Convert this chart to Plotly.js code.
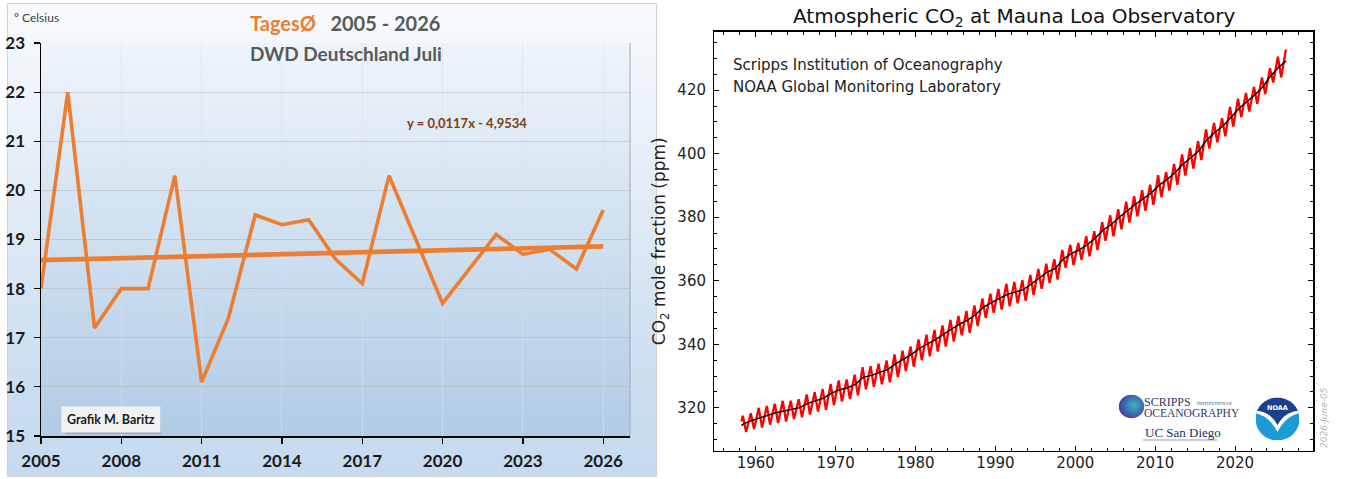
<!DOCTYPE html>
<html>
<head>
<meta charset="utf-8">
<script src="https://cdn.plot.ly/plotly-3.0.1.min.js"></script>
<style>
  html, body { margin: 0; padding: 0; background: #ffffff; }
  #wrap { position: relative; width: 1347px; height: 479px; overflow: hidden; }
  #panelBg { position: absolute; left: 7px; top: 3px; width: 648px; height: 472px;
    border: 1px solid #d3d3d3;
    background: linear-gradient(to bottom, #f8fafd 0%, #e2ecf6 40%, #cddff1 75%, #c5daef 100%); }
  #plotBg { position: absolute; left: 41px; top: 43px; width: 589px; height: 393px;
    background: linear-gradient(to bottom, #eef4fa 0%, #d2e2f1 45%, #b1cbe6 100%); }
  #chart { position: absolute; left: 0; top: 0; width: 1347px; height: 479px; }
</style>
</head>
<body>
<div id="wrap">
  <div id="panelBg"></div>
  <div id="plotBg"></div>
  <div id="chart"></div>
</div>
<script>
// ---------------- DATA: left chart (DWD Deutschland Juli, Tagesmittel) ----------------
const tempYears = [2005, 2006, 2007, 2008, 2009, 2010, 2011, 2012, 2013, 2014, 2015,
                   2016, 2017, 2018, 2019, 2020, 2021, 2022, 2023, 2024, 2025, 2026];
const tempValues = [18.0, 22.0, 17.2, 18.0, 18.0, 20.3, 16.1, 17.4, 19.5, 19.3, 19.4,
                    18.6, 18.1, 20.3, 19.0, 17.7, 18.4, 19.1, 18.7, 18.8, 18.4, 19.6];
const trendYears = [2005, 2026];
const trendValues = [18.58, 18.86];
const tempTickYears = [2005, 2008, 2011, 2014, 2017, 2020, 2023, 2026];

// ---------------- DATA: right chart (Mauna Loa CO2, ppm) ----------------
const co2FirstYear = 1958;
const co2StartTime = [1958.2];
const co2StartValue = [315.7];
// May maxima 1958..2026
const co2MayPeaks = [
  317.5, 318.3, 320.0, 320.6, 321.3, 322.2, 322.2, 322.7, 324.2, 324.9,
  325.9, 327.5, 328.6, 328.9, 330.4, 332.8, 333.1, 333.9, 334.9, 336.8,
  338.0, 339.3, 341.5, 343.0, 344.5, 345.9, 347.7, 348.9, 350.5, 352.2,
  354.4, 355.9, 357.4, 359.1, 359.6, 360.2, 361.8, 363.7, 365.4, 366.8,
  369.7, 371.3, 371.9, 374.0, 375.6, 378.4, 380.6, 382.5, 384.9, 386.6,
  388.5, 390.2, 393.2, 394.2, 396.8, 399.8, 401.8, 403.9, 407.6, 409.7,
  411.2, 414.7, 417.3, 419.1, 421.0, 424.0, 426.9, 430.5, 432.8];
// Autumn minima 1958..2025
const co2AutumnLows = [
  312.4, 313.3, 313.8, 314.7, 315.2, 315.7, 316.5, 317.0, 317.9, 318.8,
  319.4, 320.9, 322.0, 322.8, 323.9, 325.8, 326.6, 327.4, 328.0, 329.7,
  331.6, 333.0, 335.0, 336.2, 337.7, 339.3, 340.9, 342.8, 343.6, 345.7,
  348.3, 349.9, 350.9, 352.0, 352.9, 353.7, 355.5, 357.5, 359.3, 360.4,
  364.1, 364.9, 366.6, 367.7, 369.7, 372.6, 374.0, 376.2, 378.3, 380.3,
  382.0, 383.9, 386.3, 388.4, 390.2, 393.1, 395.3, 398.0, 401.6, 403.6,
  405.5, 408.5, 411.5, 413.3, 415.7, 418.8, 422.4, 424.0];
// de-seasonalized trend, yearly mid-points 1958..2025
const co2TrendValues = [
  315.0, 315.98, 316.91, 317.64, 318.45, 318.99, 319.62, 320.04, 321.37, 322.18,
  323.05, 324.62, 325.68, 326.32, 327.46, 329.68, 330.19, 331.13, 332.03, 333.84,
  335.41, 336.84, 338.76, 340.12, 341.48, 343.15, 344.87, 346.35, 347.61, 349.31,
  351.69, 353.20, 354.45, 355.70, 356.54, 357.21, 358.96, 360.97, 362.74, 363.88,
  366.84, 368.54, 369.71, 371.32, 373.45, 375.98, 377.70, 379.98, 382.09, 384.02,
  385.83, 387.64, 390.10, 391.85, 394.06, 396.74, 398.81, 401.01, 404.41, 406.76,
  408.72, 411.65, 414.21, 416.41, 418.53, 421.08, 424.61, 427.3];
const co2TrendStart = [1958.2, 314.4];
const co2TrendEnd = [2026.4, 429.2];
const co2TickYears = [1960, 1970, 1980, 1990, 2000, 2010, 2020];
const co2TickValues = [320, 340, 360, 380, 400, 420];

// ---------------- build series ----------------
const redX = co2StartTime.slice(), redY = co2StartValue.slice();
co2MayPeaks.forEach((v, i) => {
  const yr = co2FirstYear + i;
  redX.push(yr + 0.37); redY.push(v);
  if (i < co2AutumnLows.length) { redX.push(yr + 0.78); redY.push(co2AutumnLows[i]); }
});
const blackX = [co2TrendStart[0]], blackY = [co2TrendStart[1]];
co2TrendValues.forEach((v, i) => { blackX.push(co2FirstYear + i + 0.5); blackY.push(v); });
blackX.push(co2TrendEnd[0]); blackY.push(co2TrendEnd[1]);

// ---------------- layout helpers ----------------
const W = 1347, H = 479;
const PX = x => x / W;
const PY = y => 1 - y / H;
const LFONT = 'Lato, "Open Sans", sans-serif';
const DJ = '"DejaVu Sans", sans-serif';
const SERIF = '"Liberation Serif", "DejaVu Serif", serif';
const ORANGE = '#ED7D31';

const traces = [
  { x: tempYears, y: tempValues, xaxis: 'x', yaxis: 'y', mode: 'lines',
    line: { color: ORANGE, width: 3.6 }, hoverinfo: 'skip' },
  { x: trendYears, y: trendValues, xaxis: 'x', yaxis: 'y', mode: 'lines',
    line: { color: ORANGE, width: 4.6 }, hoverinfo: 'skip' },
  { x: redX, y: redY, xaxis: 'x2', yaxis: 'y2', mode: 'lines',
    line: { color: '#ff0000', width: 2.3 }, hoverinfo: 'skip' },
  { x: blackX, y: blackY, xaxis: 'x2', yaxis: 'y2', mode: 'lines',
    line: { color: '#000000', width: 1.4 }, hoverinfo: 'skip' }
];

// logos (graphics only; text is drawn as annotations)
const globeSvg = '<svg xmlns="http://www.w3.org/2000/svg" viewBox="0 0 100 100">' +
  '<defs><radialGradient id="g" cx="60%" cy="45%" r="60%">' +
  '<stop offset="0%" stop-color="#3fb3b0"/><stop offset="55%" stop-color="#3a74b8"/>' +
  '<stop offset="100%" stop-color="#4a3b96"/></radialGradient></defs>' +
  '<circle cx="50" cy="50" r="49" fill="url(#g)"/></svg>';
const noaaSvg = '<svg xmlns="http://www.w3.org/2000/svg" viewBox="0 0 100 100">' +
  '<defs><clipPath id="c"><circle cx="50" cy="50" r="50"/></clipPath></defs>' +
  '<g clip-path="url(#c)">' +
  '<rect x="0" y="0" width="100" height="100" fill="#1b9bd8"/>' +
  '<path d="M-5,36 Q30,40 50,80 Q70,40 105,36 L105,-5 L-5,-5 Z" fill="#ffffff"/>' +
  '<path d="M-5,30 Q32,30 50,64 Q68,30 105,30 L105,-5 L-5,-5 Z" fill="#1d3f8f"/>' +
  '</g></svg>';
const uri = s => 'data:image/svg+xml;charset=utf-8,' + encodeURIComponent(s);

const ann = (text, x, y, opts) => Object.assign({
  text: text, x: PX(x), y: PY(y), xref: 'paper', yref: 'paper',
  showarrow: false, xanchor: 'center', yanchor: 'middle'
}, opts || {});

const annotations = [
  // left panel
  ann('° Celsius', 12, 17, { xanchor: 'left', font: { family: LFONT, size: 12, color: '#404040' } }),
  ann('<span style="color:' + ORANGE + '">TagesØ</span>\u00A0\u00A0 2005 - 2026', 345, 23,
      { font: { family: LFONT, size: 20, color: '#595959', weight: 'bold' } }),
  ann('DWD Deutschland Juli', 346, 54, { font: { family: LFONT, size: 19, color: '#595959', weight: 'bold' } }),
  ann('y = 0,0117x - 4,9534', 467, 123, { font: { family: LFONT, size: 13, color: '#843C0C', weight: 'bold' } }),
  ann('Grafik M. Baritz', 111, 419.5, { font: { family: LFONT, size: 12.5, color: '#1a1a1a', weight: 'bold' },
      bgcolor: '#f2f2f2', borderpad: 5 }),
  // right panel
  ann('Atmospheric CO<sub>2</sub> at Mauna Loa Observatory', 1013.5, 17,
      { font: { family: DJ, size: 20, color: '#111111' } }),
  ann('Scripps Institution of Oceanography', 731, 65,
      { xanchor: 'left', font: { family: DJ, size: 15, color: '#222222' } }),
  ann('NOAA Global Monitoring Laboratory', 731, 86.5,
      { xanchor: 'left', font: { family: DJ, size: 15, color: '#222222' } }),
  ann('SCRIPPS', 1142, 402, { xanchor: 'left', font: { family: SERIF, size: 12, color: '#2d3a6c' } }),
  ann('INSTITUTION OF', 1195, 403, { xanchor: 'left', font: { family: SERIF, size: 4.5, color: '#2d3a6c' } }),
  ann('OCEANOGRAPHY', 1142, 412.5, { xanchor: 'left', font: { family: SERIF, size: 11.5, color: '#2d3a6c' } }),
  ann('UC San Diego', 1143, 432.5, { xanchor: 'left', font: { family: SERIF, size: 13, color: '#1d2f5e' } }),
  ann('NOAA', 1277.5, 407.5, { font: { family: DJ, size: 6.5, color: '#ffffff', weight: 'bold' } }),
  ann('2026-June-05', 1324, 418, { textangle: -90,
      font: { family: DJ, size: 9, color: '#b5b5b5', style: 'italic' } })
];

const shapes = [
  // right border of left plot area
  { type: 'line', xref: 'paper', yref: 'paper', x0: PX(630), x1: PX(630), y0: PY(436), y1: PY(43),
    line: { color: '#a6a6a6', width: 1 } },
  // shadow of the credit box
  { type: 'rect', xref: 'paper', yref: 'paper', x0: PX(65), x1: PX(161), y0: PY(434), y1: PY(409),
    fillcolor: 'rgba(0,0,0,0.15)', line: { width: 0 }, layer: 'above' },
  // UC San Diego underline
  { type: 'line', xref: 'paper', yref: 'paper', x0: PX(1143), x1: PX(1217), y0: PY(440), y1: PY(440),
    line: { color: '#9a9a9a', width: 1 } }
];

const images = [
  { source: uri(globeSvg), xref: 'paper', yref: 'paper', x: PX(1118.5), y: PY(394.5),
    sizex: PX(26), sizey: 24 / H, xanchor: 'left', yanchor: 'top', sizing: 'stretch', layer: 'above' },
  { source: uri(noaaSvg), xref: 'paper', yref: 'paper', x: PX(1255.5), y: PY(397.5),
    sizex: PX(44), sizey: 43 / H, xanchor: 'left', yanchor: 'top', sizing: 'stretch', layer: 'above' }
];

const layout = {
  width: W, height: H,
  margin: { l: 0, r: 0, t: 0, b: 0, pad: 0 },
  paper_bgcolor: 'rgba(0,0,0,0)',
  plot_bgcolor: 'rgba(0,0,0,0)',
  showlegend: false,
  xaxis: {
    domain: [PX(41), PX(630)], range: [2005, 2027], anchor: 'y',
    tickmode: 'array', tickvals: tempTickYears, ticktext: tempTickYears.map(String),
    ticks: 'outside', ticklen: 6, tickwidth: 1.2, tickcolor: '#000',
    showline: true, linecolor: '#000', linewidth: 1.5,
    showgrid: true, gridcolor: 'rgba(215,225,235,0.6)', gridwidth: 1,
    zeroline: false, automargin: false, fixedrange: true, ticklabelstandoff: 3,
    tickfont: { family: LFONT, size: 17, color: '#1a1a1a', weight: 'bold' }
  },
  yaxis: {
    domain: [PY(436), PY(43)], range: [15, 23], anchor: 'x',
    tickmode: 'linear', tick0: 15, dtick: 1,
    ticks: 'outside', ticklen: 6, tickwidth: 1.2, tickcolor: '#000',
    showline: true, linecolor: '#000', linewidth: 1.5,
    showgrid: true, gridcolor: 'rgba(175,175,175,0.45)', gridwidth: 1,
    zeroline: false, automargin: false, fixedrange: true, ticklabelstandoff: 5,
    tickfont: { family: LFONT, size: 17, color: '#1a1a1a', weight: 'bold' }
  },
  xaxis2: {
    domain: [PX(714.3), PX(1313.3)], range: [1954.8, 2029.8], anchor: 'y2',
    tickmode: 'array', tickvals: co2TickYears, ticktext: co2TickYears.map(String),
    ticks: 'inside', ticklen: 5, tickwidth: 1, tickcolor: '#000',
    minor: { dtick: 2, tick0: 1960, ticks: 'inside', ticklen: 3, tickcolor: '#000', tickwidth: 1, showgrid: false },
    showline: true, mirror: 'ticks', linecolor: '#000', linewidth: 1.3,
    showgrid: false, zeroline: false, automargin: false, fixedrange: true, ticklabelstandoff: -2,
    tickfont: { family: DJ, size: 15, color: '#222' }
  },
  yaxis2: {
    domain: [PY(450.7), PY(31.7)], range: [306.5, 438.4], anchor: 'x2',
    tickmode: 'array', tickvals: co2TickValues, ticktext: co2TickValues.map(String),
    ticks: 'inside', ticklen: 5, tickwidth: 1, tickcolor: '#000',
    minor: { dtick: 5, tick0: 300, ticks: 'inside', ticklen: 3, tickcolor: '#000', tickwidth: 1, showgrid: false },
    showline: true, mirror: 'ticks', linecolor: '#000', linewidth: 1.3,
    showgrid: false, zeroline: false, automargin: false, fixedrange: true, ticklabelstandoff: 4,
    tickfont: { family: DJ, size: 15, color: '#222' },
    title: { text: 'CO<sub>2</sub> mole fraction (ppm)', standoff: 7, font: { family: DJ, size: 17, color: '#222' } }
  },
  annotations: annotations,
  shapes: shapes,
  images: images
};

Plotly.newPlot('chart', traces, layout, { displayModeBar: false, staticPlot: true, responsive: false });
</script>
</body>
</html>
